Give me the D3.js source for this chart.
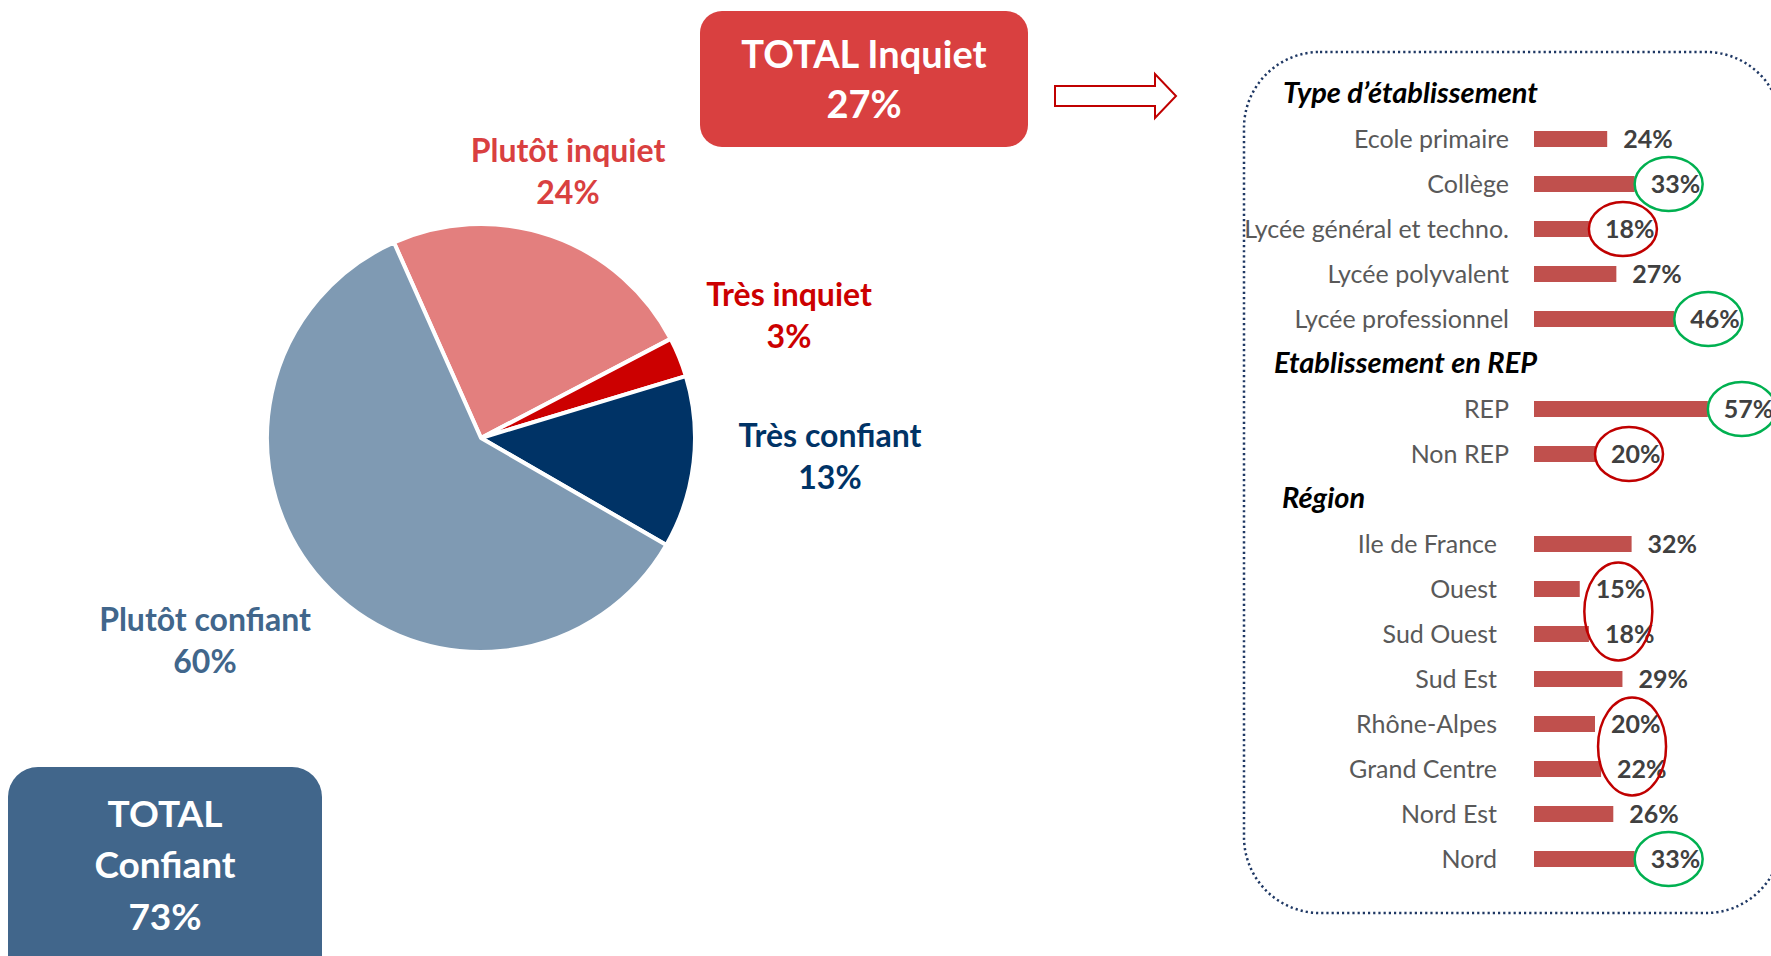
<!DOCTYPE html>
<html>
<head>
<meta charset="utf-8">
<script src="https://cdn.jsdelivr.net/npm/d3@7"></script>
<style>
  body { margin: 0; background: #ffffff; }
  svg { display: block; font-family: Lato, "Open Sans", sans-serif; }
</style>
</head>
<body>
<svg class="chart" width="1771" height="956"></svg>
<script>

// pie slices, clockwise from the top left
var pieLabels = ["Plutôt inquiet", "Très inquiet", "Très confiant", "Plutôt confiant"];
var pieValues = [24, 3, 13, 60];
var pieColors = ["#E37F7E", "#CC0000", "#003366", "#7F9AB3"];
var pieTextColors = ["#D94040", "#CC0000", "#003366", "#41668B"];

// totals
var totalLabels = ["TOTAL Inquiet", "TOTAL Confiant"];
var totalValues = [27, 73];

// breakdown of "inquiet"
var sectionTitles = ["Type d’établissement", "Etablissement en REP", "Région"];
var typeLabels = ["Ecole primaire", "Collège", "Lycée général et techno.", "Lycée polyvalent", "Lycée professionnel"];
var typeValues = [24, 33, 18, 27, 46];
var repLabels = ["REP", "Non REP"];
var repValues = [57, 20];
var regionLabels = ["Ile de France", "Ouest", "Sud Ouest", "Sud Est", "Rhône-Alpes", "Grand Centre", "Nord Est", "Nord"];
var regionValues = [32, 15, 18, 29, 20, 22, 26, 33];

// circled values
var highlightRows = [["Collège"], ["Lycée général et techno."], ["Lycée professionnel"], ["REP"], ["Non REP"],
    ["Ouest", "Sud Ouest"], ["Rhône-Alpes", "Grand Centre"], ["Nord"]];
var highlightKinds = ["up", "down", "up", "up", "down", "down", "down", "up"];

var svg = d3.select(".chart");

drawPie();
drawTotals();
drawPanel();

// pie chart with its labels
function drawPie() {

    var cx = 481, cy = 438, radius = 214;

    // label anchors (centre of the two lines)
    var labelPos = [[568, 169], [789, 313], [830, 454], [205, 638]];

    var pie = d3.pie()
        .sort(null)
        .startAngle(-24 * Math.PI / 180)
        .endAngle(-24 * Math.PI / 180 + 2 * Math.PI);

    var arc = d3.arc()
        .innerRadius(0)
        .outerRadius(radius);

    var g = svg.append("g")
        .attr("transform", "translate(" + cx + "," + cy + ")");

    g.selectAll("path")
        .data(pie(pieValues))
        .enter()
        .append("path")
        .attr("d", arc)
        .attr("fill", function(d, i) { return pieColors[i]; })
        .attr("stroke", "#ffffff")
        .attr("stroke-width", 4)
        .attr("stroke-linejoin", "round");

    var labels = svg.selectAll(".pie-label")
        .data(pieLabels)
        .enter()
        .append("text")
        .attr("class", "pie-label")
        .attr("text-anchor", "middle")
        .attr("font-weight", "bold")
        .attr("font-size", 32)
        .attr("fill", function(d, i) { return pieTextColors[i]; });

    labels.append("tspan")
        .attr("x", function(d, i) { return labelPos[i][0]; })
        .attr("y", function(d, i) { return labelPos[i][1] - 7; })
        .text(function(d) { return d; });

    labels.append("tspan")
        .attr("x", function(d, i) { return labelPos[i][0]; })
        .attr("y", function(d, i) { return labelPos[i][1] + 35; })
        .text(function(d, i) { return pieValues[i] + "%"; });
}

// the two total boxes and the arrow
function drawTotals() {

    // red box
    svg.append("rect")
        .attr("x", 700).attr("y", 11)
        .attr("width", 328).attr("height", 136)
        .attr("rx", 22)
        .attr("fill", "#D94040");

    var red = svg.append("text")
        .attr("text-anchor", "middle")
        .attr("font-weight", "bold")
        .attr("font-size", 38)
        .attr("fill", "#ffffff");
    red.append("tspan").attr("x", 864).attr("y", 68).text(totalLabels[0]);
    red.append("tspan").attr("x", 864).attr("y", 118).text(totalValues[0] + "%");

    // blue box, runs off the bottom
    svg.append("rect")
        .attr("x", 8).attr("y", 767)
        .attr("width", 314).attr("height", 230)
        .attr("rx", 30)
        .attr("fill", "#41668B");

    var words = totalLabels[1].split(" ");
    var blue = svg.append("text")
        .attr("text-anchor", "middle")
        .attr("font-weight", "bold")
        .attr("font-size", 37)
        .attr("fill", "#ffffff");
    blue.append("tspan").attr("x", 165).attr("y", 827).text(words[0]);
    blue.append("tspan").attr("x", 165).attr("y", 878).text(words[1]);
    blue.append("tspan").attr("x", 165).attr("y", 930).text(totalValues[1] + "%");

    // outlined arrow
    var p = d3.path();
    p.moveTo(1055, 86);
    p.lineTo(1155, 86);
    p.lineTo(1155, 74);
    p.lineTo(1176, 96);
    p.lineTo(1155, 118);
    p.lineTo(1155, 106);
    p.lineTo(1055, 106);
    p.closePath();

    svg.append("path")
        .attr("d", p.toString())
        .attr("fill", "#ffffff")
        .attr("stroke", "#C00000")
        .attr("stroke-width", 2);
}

// dotted panel with the bar breakdown
function drawPanel() {

    svg.append("rect")
        .attr("x", 1244).attr("y", 52)
        .attr("width", 538).attr("height", 861)
        .attr("rx", 76)
        .attr("fill", "none")
        .attr("stroke", "#1F3864")
        .attr("stroke-width", 2.5)
        .attr("stroke-dasharray", "2.2,3");

    // build the slot list: a title, then its rows
    var sections = [
        {title: sectionTitles[0], labels: typeLabels, values: typeValues, left: 1283, right: 1509},
        {title: sectionTitles[1], labels: repLabels, values: repValues, left: 1274, right: 1509},
        {title: sectionTitles[2], labels: regionLabels, values: regionValues, left: 1282, right: 1497}
    ];
    var slots = [];
    sections.forEach(function(s) {
        slots.push({type: "title", label: s.title, left: s.left});
        s.labels.forEach(function(l, i) {
            slots.push({type: "row", label: l, value: s.values[i], right: s.right});
        });
    });

    var y = d3.scalePoint()
        .domain(d3.range(slots.length))
        .range([94, 859]);

    var x = d3.scaleLinear()
        .domain([0, 100])
        .range([1534, 1839]);

    var barHeight = 16;

    slots.forEach(function(s, i) { s.y = y(i); });

    var titles = slots.filter(function(s) { return s.type === "title"; });
    var rows = slots.filter(function(s) { return s.type === "row"; });

    svg.selectAll(".section-title")
        .data(titles)
        .enter()
        .append("text")
        .attr("class", "section-title")
        .attr("x", function(d) { return d.left; })
        .attr("y", function(d) { return d.y + 9; })
        .attr("font-weight", "bold")
        .attr("font-style", "italic")
        .attr("font-size", 29)
        .attr("fill", "#000000")
        .text(function(d) { return d.label; });

    svg.selectAll(".row-label")
        .data(rows)
        .enter()
        .append("text")
        .attr("class", "row-label")
        .attr("x", function(d) { return d.right; })
        .attr("y", function(d) { return d.y + 8.5; })
        .attr("text-anchor", "end")
        .attr("font-size", 25)
        .attr("fill", "#595959")
        .text(function(d) { return d.label; });

    svg.selectAll(".bar")
        .data(rows)
        .enter()
        .append("rect")
        .attr("class", "bar")
        .attr("x", x(0))
        .attr("y", function(d) { return d.y - barHeight / 2; })
        .attr("width", function(d) { return x(d.value) - x(0); })
        .attr("height", barHeight)
        .attr("fill", "#C0504D");

    svg.selectAll(".bar-value")
        .data(rows)
        .enter()
        .append("text")
        .attr("class", "bar-value")
        .attr("x", function(d) { return x(d.value) + 16; })
        .attr("y", function(d) { return d.y + 9; })
        .attr("font-weight", "bold")
        .attr("font-size", 25)
        .attr("fill", "#404040")
        .text(function(d) { return d.value + "%"; });

    // circles round the notable values
    var byLabel = {};
    rows.forEach(function(r) { byLabel[r.label] = r; });

    svg.selectAll(".highlight")
        .data(highlightRows)
        .enter()
        .append("ellipse")
        .attr("class", "highlight")
        .attr("cx", function(d) { return d3.mean(d, function(l) { return x(byLabel[l].value); }) + 34; })
        .attr("cy", function(d) { return d3.mean(d, function(l) { return byLabel[l].y; }); })
        .attr("rx", 34)
        .attr("ry", function(d) { return d.length > 1 ? 49 : 27; })
        .attr("fill", "none")
        .attr("stroke", function(d, i) { return highlightKinds[i] === "up" ? "#00B050" : "#C00000"; })
        .attr("stroke-width", 2.5);
}
</script>
</body>
</html>
